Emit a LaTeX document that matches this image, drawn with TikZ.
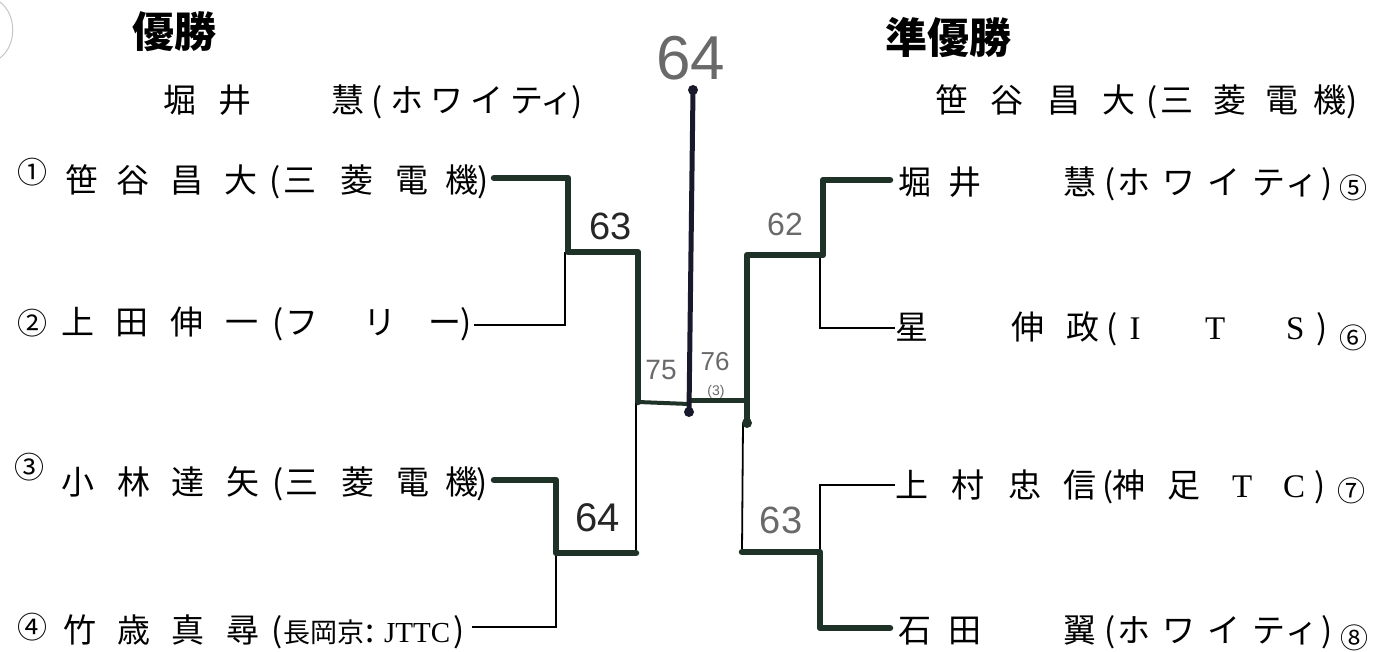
\documentclass[tikz,border=0pt]{standalone}
\usepackage{fontspec}
\setmainfont{Noto Sans CJK JP}
\newfontfamily\ser{Liberation Serif}
\newfontfamily\hand{Liberation Sans}
\definecolor{winclr}{RGB}{30,50,40}
\definecolor{ctrclr}{RGB}{24,26,44}
\definecolor{pencil}{RGB}{105,105,105}
\newcommand\C[1]{\makebox[0pt]{#1}}
\newcommand\s[1]{\hspace{#1pt}}
\begin{document}
\begin{tikzpicture}[x=1pt,y=-1pt,
  nm/.style={font=\fontsize{33}{33}\selectfont, inner sep=0pt, anchor=base west},
  cnum/.style={font=\fontsize{30}{30}\selectfont, inner sep=0pt},
  cnumr/.style={font=\fontsize{28}{28}\selectfont, inner sep=0pt},
  ttl/.style={font=\fontsize{42}{42}\selectfont\bfseries, inner sep=0pt},
  hw/.style={font=\hand, inner sep=0pt},
  win/.style={line width=6.5pt, draw=winclr, line cap=round, line join=round},
  lose/.style={line width=1.8pt, draw=black},
  dot/.style={circle, fill=#1, inner sep=0pt, minimum size=10pt}]
\useasboundingbox (0,0) rectangle (1385,652);
\draw[gray!45, line width=1pt] (0,2) .. controls (17,15) and (17,45) .. (0,58);
% titles
\node[ttl] (t1) at (174,32) {優勝};
\node[ttl] (t2) at (948,38) {準優勝};
\node[nm] (w1) at (180,113) {\C{堀}\s{55}\C{井}\s{113}\C{慧}\s{29}\C{(}\s{30}\C{ホ}\s{40}\C{ワ}\s{40}\C{イ}\s{40}\C{テ}\s{30}\C{ィ}\s{20}\C{)}};
\node[nm] (w2) at (952,113) {\C{笹}\s{55}\C{谷}\s{57}\C{昌}\s{55}\C{大}\s{33}\C{(}\s{25}\C{三}\s{53}\C{菱}\s{52}\C{電}\s{48}\C{機}\s{22}\C{)}};
% left entries
\node[cnum] (n1) at (32,172) {①};
\node[cnum] (n2) at (32,323) {②};
\node[cnum] (n3) at (30,467) {③};
\node[cnum] (n4) at (32,627) {④};
\node[nm] (p1) at (82,193) {\C{笹}\s{51}\C{谷}\s{54}\C{昌}\s{54}\C{大}\s{34}\C{(}\s{25}\C{三}\s{57}\C{菱}\s{55}\C{電}\s{50}\C{機}\s{21}\C{)}};
\node[nm] (p2) at (78,335) {\C{上}\s{54}\C{田}\s{55}\C{伸}\s{55}\C{一}\s{36}\C{(}\s{24}\C{フ}\s{78}\C{リ}\s{65}\C{ー}\s{21}\C{)}};
\node[nm] (p3) at (78,494) {\C{小}\s{56}\C{林}\s{54}\C{達}\s{55}\C{矢}\s{35}\C{(}\s{24}\C{三}\s{56}\C{菱}\s{55}\C{電}\s{49}\C{機}\s{20}\C{)}};
\node[nm] (p4) at (80,642) {\C{竹}\s{54}\C{歳}\s{54}\C{真}\s{55}\C{尋}\s{34}\C{(}\s{47}\C{{\fontsize{27}{27}\selectfont 長岡京}}\s{46}\C{:}\s{47}\C{{\ser\fontsize{29}{29}\selectfont JTTC}}\s{42}\C{)}};
% right entries
\node[nm] (p5) at (915,195) {\C{堀}\s{50}\C{井}\s{115}\C{慧}\s{30}\C{(}\s{24}\C{ホ}\s{45}\C{ワ}\s{45}\C{イ}\s{45}\C{テ}\s{33}\C{ィ}\s{25}\C{)}};
\node[nm] (p6) at (912,340) {\C{星}\s{116}\C{伸}\s{55}\C{政}\s{29}\C{(}\s{23}\C{{\ser I}}\s{80}\C{{\ser T}}\s{80}\C{{\ser S}}\s{27}\C{)}};
\node[nm] (p7) at (912,497) {\C{上}\s{56}\C{村}\s{57}\C{忠}\s{55}\C{信}\s{28}\C{(}\s{21}\C{神}\s{55}\C{足}\s{58}\C{{\ser T}}\s{52}\C{{\ser C}}\s{26}\C{)}};
\node[nm] (p8) at (915,642) {\C{石}\s{50}\C{田}\s{115}\C{翼}\s{30}\C{(}\s{24}\C{ホ}\s{45}\C{ワ}\s{45}\C{イ}\s{45}\C{テ}\s{33}\C{ィ}\s{25}\C{)}};
\node[cnumr] (n5) at (1353,188) {⑤};
\node[cnumr] (n6) at (1353,338) {⑥};
\node[cnumr] (n7) at (1351,491) {⑦};
\node[cnumr] (n8) at (1354,638) {⑧};
% bracket coordinates
\coordinate (e1) at (494,178); \coordinate (k1) at (568,178);
\coordinate (e2) at (474,325); \coordinate (k2) at (565,325);
\coordinate (m12) at (568,252); \coordinate (m12t) at (565,252);
\coordinate (s1) at (638,252); \coordinate (s1b) at (638,402);
\coordinate (e3) at (494,480); \coordinate (k3) at (556,480);
\coordinate (e4) at (472,627); \coordinate (k4) at (556,627);
\coordinate (m34) at (556,553); \coordinate (s2) at (636,553);
\coordinate (s2b) at (636,402);
\coordinate (ctop) at (693,90); \coordinate (cbot) at (689,412);
\coordinate (cl) at (689,404); \coordinate (cr) at (691,401);
\coordinate (e5) at (890,180); \coordinate (k5) at (823,180);
\coordinate (m56) at (823,255); \coordinate (m56t) at (820,255);
\coordinate (e6) at (895,328); \coordinate (k6) at (820,328);
\coordinate (s5) at (747,255); \coordinate (s5b) at (747,423);
\coordinate (e7) at (895,485); \coordinate (k7) at (820,485);
\coordinate (e8) at (890,628); \coordinate (k8) at (820,628);
\coordinate (m78) at (820,552); \coordinate (s8) at (742,552);
\coordinate (s8b) at (743,423); \coordinate (s5c) at (745,401);
% thin (losing) lines
\draw[lose] (e2) -- (k2) -- (m12t);
\draw[lose] (e4) -- (k4) -- (m34);
\draw[lose] (s2) -- (s2b);
\draw[lose] (e6) -- (k6) -- (m56t);
\draw[lose] (e7) -- (k7) -- (m78);
\draw[lose] (s8) -- (s8b);
% thick (winning) lines
\draw[win] (e1) -- (k1) -- (m12) -- (s1) -- (s1b);
\draw[win, line width=4pt] (s1b) -- (cl);
\draw[win] (e3) -- (k3) -- (m34) -- (s2);
\draw[win] (e5) -- (k5) -- (m56) -- (s5) -- (s5b);
\draw[win] (e8) -- (k8) -- (m78) -- (s8);
\draw[win, line width=5pt] (cr) -- (s5c);
\draw[line width=5pt, draw=ctrclr, line cap=round] (ctop) -- (cbot);
\node[dot=ctrclr] (dt) at (ctop) {};
\node[dot=ctrclr] (db) at (cbot) {};
\node[dot=winclr] (dr) at (s5b) {};
% scores
\node[hw, font=\hand\fontsize{38}{38}\selectfont, text=black!85] (sc1) at (611,226) {63};
\node[hw, font=\hand\fontsize{40}{40}\selectfont, text=black!85] (sc2) at (598,518) {64};
\node[hw, font=\hand\fontsize{32}{32}\selectfont, text=pencil] (sc5) at (785,224) {62};
\node[hw, font=\hand\fontsize{38}{38}\selectfont, text=pencil] (sc6) at (781,520) {63};
\node[hw, font=\hand\fontsize{62}{62}\selectfont, text=pencil] (sc7) at (691,58) {64};
\node[hw, font=\hand\fontsize{28}{28}\selectfont, text=pencil] (sc3) at (661,370) {75};
\node[hw, font=\hand\fontsize{26}{26}\selectfont, text=pencil] (sc4) at (715,362) {76};
\node[hw, font=\hand\fontsize{14}{14}\selectfont, text=pencil] (sc4b) at (716,392) {(3)};
\end{tikzpicture}
\end{document}
